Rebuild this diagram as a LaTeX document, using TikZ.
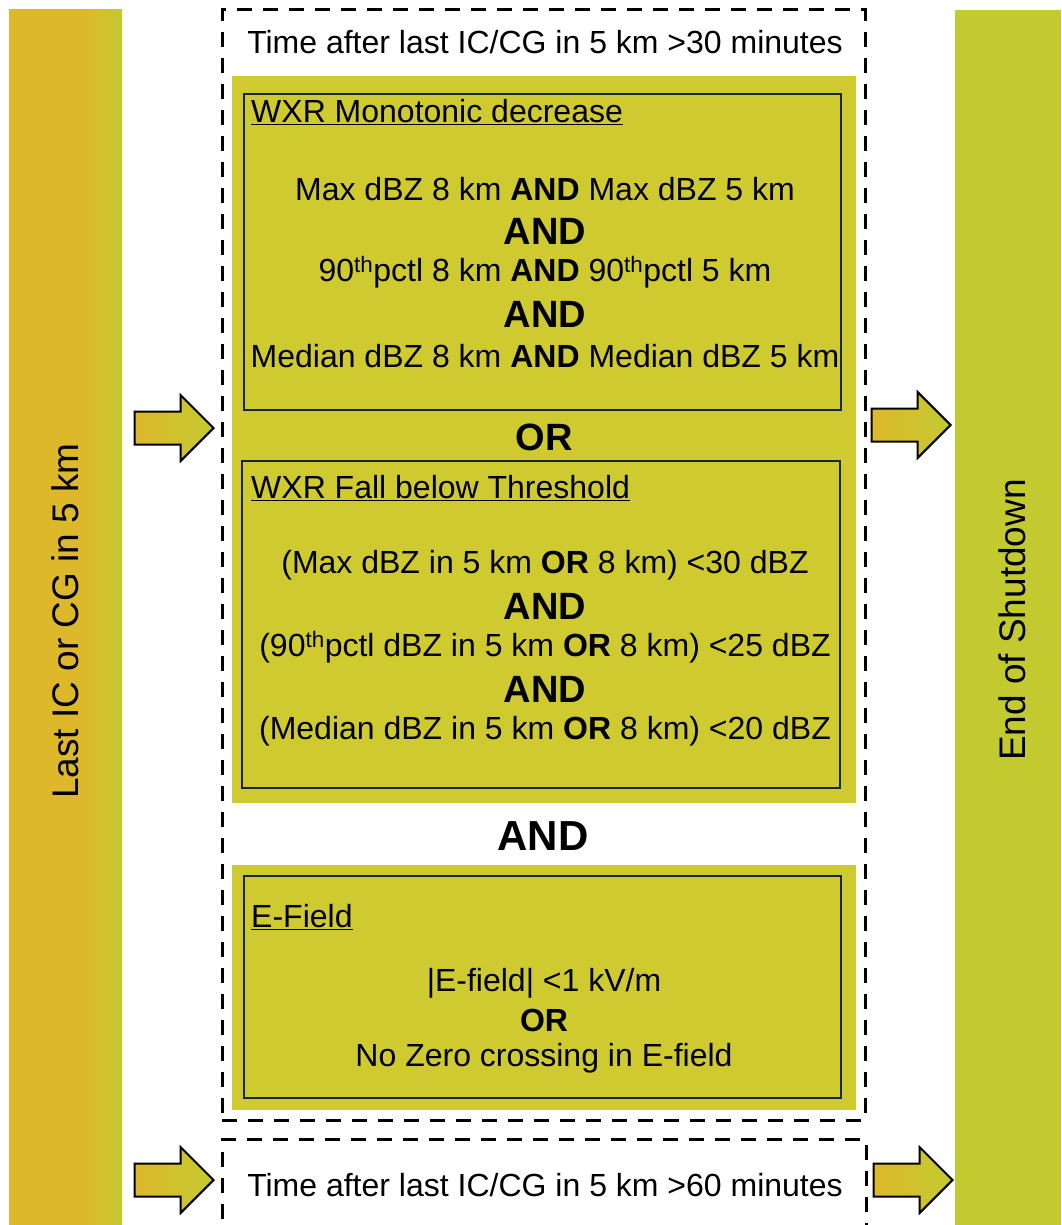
\documentclass[tikz,border=0pt]{standalone}
\usepackage{fontspec}
\setmainfont{Liberation Sans}
\usetikzlibrary{shapes.arrows, positioning}
\definecolor{barorange}{RGB}{221,184,42}
\definecolor{bargreen}{RGB}{195,202,48}
\definecolor{panelolive}{RGB}{207,202,47}
\definecolor{boxnavy}{RGB}{22,38,58}
\pgfdeclarehorizontalshading{barshade}{100bp}{color(0bp)=(barorange); color(59bp)=(barorange); color(75bp)=(bargreen); color(100bp)=(bargreen)}
\tikzset{
  lbar/.style = {shading=barshade, inner sep=0pt, minimum width=113pt, minimum height=1225pt},
  rbar/.style = {fill=bargreen, inner sep=0pt, minimum width=106pt, minimum height=1225pt},
  vtxt/.style = {rotate=90, font=\fontsize{37}{42}\selectfont, inner sep=0pt},
  pnl/.style = {fill=panelolive, inner sep=0pt},
  cbox/.style = {draw=boxnavy, line width=2pt, inner sep=0pt},
  dbox/.style = {draw=black, line width=3pt, dash pattern=on 15pt off 11pt, inner sep=0pt},
  txt/.style = {font=\fontsize{32}{36}\selectfont, inner sep=0pt},
  hd/.style = {txt, anchor=west},
  kw/.style = {font=\fontsize{38}{42}\selectfont\bfseries, inner sep=0pt},
  sarr/.style = {single arrow, draw=black, line width=2pt, left color=barorange,
    right color=bargreen, anchor=tip, minimum height=79pt, minimum width=64pt,
    inner xsep=0pt, inner ysep=15.5pt, single arrow head extend=16.5pt}
}

\begin{document}
\begin{tikzpicture}[x=1pt, y=-1pt]
  \useasboundingbox (0,0) rectangle (1061,1225);
  % side bars
  \node [lbar] (last) at (65.5,622.5) {};
  \node [rbar] (end) at (1008,622.5) {};
  \node [vtxt] (lasttxt) at (65,621) {Last IC or CG in 5 km};
  \node [vtxt] (endtxt) at (1012,620) {End of Shutdown};
  % arrows
  \node [sarr] (a1) at (215,428) {};
  \node [sarr] (a2) at (952,425) {};
  \node [sarr] (a3) at (215,1180) {};
  \node [sarr] (a4) at (954,1180) {};
  % dashed frames
  \node [dbox, minimum width=643pt, minimum height=1110pt] (t30) at (543.5,565) {};
  \node [dbox, minimum width=644pt, minimum height=130pt, anchor=north] (t60) at (544,1138) {};
  % panels
  \node [pnl, minimum width=624pt, minimum height=727pt] (wxr) at (544,439.5) {};
  \node [pnl, minimum width=624pt, minimum height=245pt] (ef) at (544,987.5) {};
  \node [cbox, minimum width=597pt, minimum height=316pt] (mono) at (542.5,252) {};
  \node [cbox, minimum width=598pt, minimum height=327pt] (thr) at (541,624.5) {};
  \node [cbox, minimum width=597pt, minimum height=222pt] (efb) at (542.5,987) {};
  % texts
  \node [txt] (t30txt) at (545,42) {Time after last IC/CG in 5 km >30 minutes};
  \node [hd] (monohd) at (251,112) {\underline{WXR Monotonic decrease}};
  \node [txt] (m1) at (545,189) {Max dBZ 8 km \textbf{AND} Max dBZ 5 km};
  \node [kw] (m2) at (545,231) {AND};
  \node [txt] (m3) at (545,272) {90\textsuperscript{th}pctl 8 km \textbf{AND} 90\textsuperscript{th}pctl 5 km};
  \node [kw] (m4) at (545,314) {AND};
  \node [txt] (m5) at (545,356) {Median dBZ 8 km \textbf{AND} Median dBZ 5 km};
  \node [kw] (or1) at (544,437) {OR};
  \node [hd] (thrhd) at (251,488) {\underline{WXR Fall below Threshold}};
  \node [txt] (f1) at (545,565) {(Max dBZ in 5 km \textbf{OR} 8 km) <30 dBZ};
  \node [kw] (f2) at (545,606) {AND};
  \node [txt] (f3) at (545,647) {(90\textsuperscript{th}pctl dBZ in 5 km \textbf{OR} 8 km) <25 dBZ};
  \node [kw] (f4) at (545,689) {AND};
  \node [txt] (f5) at (545,731) {(Median dBZ in 5 km \textbf{OR} 8 km) <20 dBZ};
  \node [kw, font=\fontsize{42}{46}\selectfont\bfseries] (and1) at (543,836) {AND};
  \node [hd] (efhd) at (251,917) {\underline{E-Field}};
  \node [txt] (e1) at (544,983) {|E-field| <1 kV/m};
  \node [kw, font=\fontsize{32}{36}\selectfont\bfseries] (e2) at (544,1020) {OR};
  \node [txt] (e3) at (544,1058) {No Zero crossing in E-field};
  \node [txt] (t60txt) at (545,1185) {Time after last IC/CG in 5 km >60 minutes};
\end{tikzpicture}
\end{document}
